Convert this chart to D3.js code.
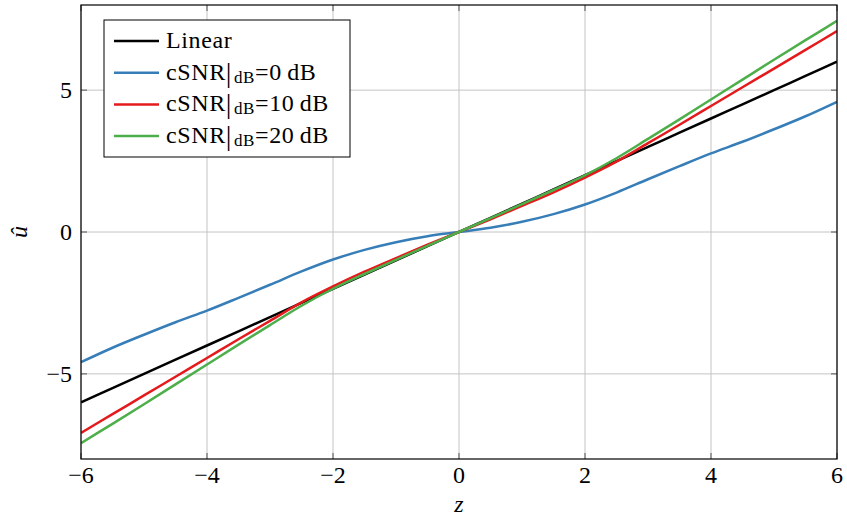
<!DOCTYPE html>
<html>
<head>
<meta charset="utf-8">
<style>
	body { margin: 0; background: #fff; }
	text { font-family: "Liberation Serif", "DejaVu Serif", serif; }
</style>
</head>
<body>
<script src="https://cdn.jsdelivr.net/npm/d3@7"></script>
<script>
	// data
	var zValues = [-6, -5.5, -5, -4.5, -4, -3.5, -3, -2.5, -2, -1.5, -1, -0.5, 0,
		0.5, 1, 1.5, 2, 2.5, 3, 3.5, 4, 4.5, 5, 5.5, 6];
	var linearVals = [-6, -5.5, -5, -4.5, -4, -3.5, -3, -2.5, -2, -1.5, -1, -0.5, 0,
		0.5, 1, 1.5, 2, 2.5, 3, 3.5, 4, 4.5, 5, 5.5, 6];
	var snr0Vals = [-4.59, -4.08, -3.62, -3.18, -2.77, -2.32, -1.86, -1.39, -0.97, -0.63, -0.36, -0.15, 0,
		0.15, 0.36, 0.63, 0.97, 1.39, 1.86, 2.32, 2.77, 3.18, 3.62, 4.08, 4.59];
	var snr10Vals = [-7.08, -6.42, -5.76, -5.1, -4.44, -3.78, -3.13, -2.48, -1.92, -1.4, -0.92, -0.45, 0,
		0.45, 0.92, 1.4, 1.92, 2.48, 3.13, 3.78, 4.44, 5.1, 5.76, 6.42, 7.08];
	var snr20Vals = [-7.44, -6.76, -6.07, -5.37, -4.67, -3.97, -3.28, -2.6, -2.0, -1.48, -0.98, -0.49, 0,
		0.49, 0.98, 1.48, 2.0, 2.6, 3.28, 3.97, 4.67, 5.37, 6.07, 6.76, 7.44];
	var xTicks = [-6, -4, -2, 0, 2, 4, 6];
	var yTicks = [-5, 0, 5];

	var series = [
		{ name: "Linear", vals: linearVals, color: "#000000" },
		{ name: "0", vals: snr0Vals, color: "#377eb8" },
		{ name: "10", vals: snr10Vals, color: "#e41a1c" },
		{ name: "20", vals: snr20Vals, color: "#4daf4a" }
	];

	var width = 847, height = 517;
	var margin = { top: 5, right: 10, bottom: 58, left: 81 };
	var fs = 24;

	var svg = d3.select("body").append("svg")
		.attr("width", width)
		.attr("height", height);

	var x = d3.scaleLinear().domain([-6, 6]).range([margin.left, width - margin.right]);
	var y = d3.scaleLinear().domain([-8, 8]).range([height - margin.bottom, margin.top]);

	// grid
	var grid = svg.append("g").attr("stroke", "#c4c4c4").attr("stroke-width", 1);
	grid.selectAll(".gx").data(xTicks).join("line")
		.attr("x1", d => x(d)).attr("x2", d => x(d))
		.attr("y1", y(8)).attr("y2", y(-8));
	grid.selectAll(".gy").data(yTicks).join("line")
		.attr("x1", x(-6)).attr("x2", x(6))
		.attr("y1", d => y(d)).attr("y2", d => y(d));

	// inner ticks, pgfplots style
	var ticks = svg.append("g").attr("stroke", "#555").attr("stroke-width", 1);
	xTicks.forEach(function (t) {
		ticks.append("line").attr("x1", x(t)).attr("x2", x(t)).attr("y1", y(-8)).attr("y2", y(-8) - 6);
		ticks.append("line").attr("x1", x(t)).attr("x2", x(t)).attr("y1", y(8)).attr("y2", y(8) + 6);
	});
	yTicks.forEach(function (t) {
		ticks.append("line").attr("x1", x(-6)).attr("x2", x(-6) + 6).attr("y1", y(t)).attr("y2", y(t));
		ticks.append("line").attr("x1", x(6)).attr("x2", x(6) - 6).attr("y1", y(t)).attr("y2", y(t));
	});

	var fmt = d => d < 0 ? "\u2212" + Math.abs(d) : String(d);

	// tick labels
	svg.append("g").selectAll("text").data(xTicks).join("text")
		.attr("x", d => x(d)).attr("y", y(-8) + 24)
		.attr("text-anchor", "middle").attr("font-size", fs)
		.text(fmt);
	svg.append("g").selectAll("text").data(yTicks).join("text")
		.attr("x", x(-6) - 9).attr("y", d => y(d) + 8)
		.attr("text-anchor", "end").attr("font-size", fs)
		.text(fmt);

	// axis labels
	svg.append("text").attr("x", x(0)).attr("y", 512)
		.attr("text-anchor", "middle").attr("font-size", fs).attr("font-style", "italic")
		.text("z");
	svg.append("text").attr("transform", `translate(27,${y(0)}) rotate(-90)`)
		.attr("text-anchor", "middle").attr("font-size", fs).attr("font-style", "italic")
		.text("\u00fb");

	// curves
	svg.append("clipPath").attr("id", "clip").append("rect")
		.attr("x", x(-6)).attr("y", y(8)).attr("width", x(6) - x(-6)).attr("height", y(-8) - y(8));

	var line = d3.line()
		.x((d, i) => x(zValues[i]))
		.y(d => y(d))
		.curve(d3.curveCatmullRom);

	svg.append("g").attr("clip-path", "url(#clip)")
		.selectAll("path").data(series).join("path")
		.attr("fill", "none")
		.attr("stroke", d => d.color)
		.attr("stroke-width", 2.5)
		.attr("d", d => line(d.vals));

	// frame
	svg.append("rect")
		.attr("x", x(-6)).attr("y", y(8))
		.attr("width", x(6) - x(-6)).attr("height", y(-8) - y(8))
		.attr("fill", "none").attr("stroke", "#000").attr("stroke-width", 1.2);

	// legend
	var lg = svg.append("g").attr("transform", "translate(104,20)");
	lg.append("rect").attr("width", 246).attr("height", 137)
		.attr("fill", "#fff").attr("stroke", "#000").attr("stroke-width", 1);
	series.forEach(function (s, i) {
		var ly = 21 + i * 31.7;
		lg.append("line").attr("x1", 10).attr("x2", 55).attr("y1", ly).attr("y2", ly)
			.attr("stroke", s.color).attr("stroke-width", 2.5);
		var t = lg.append("text").attr("x", 62).attr("y", ly + 7)
			.attr("font-size", fs).attr("letter-spacing", 0.6);
		if (s.name === "Linear") {
			t.text("Linear");
		} else {
			t.append("tspan").text("cSNR");
			t.append("tspan").attr("font-size", 28).attr("dy", 2).text("|");
			t.append("tspan").attr("font-size", 17).attr("dy", 1).attr("dx", 2).text("dB");
			t.append("tspan").attr("dy", -3).text("=" + s.name + "\u2009dB");
		}
	});
</script>
</body>
</html>
